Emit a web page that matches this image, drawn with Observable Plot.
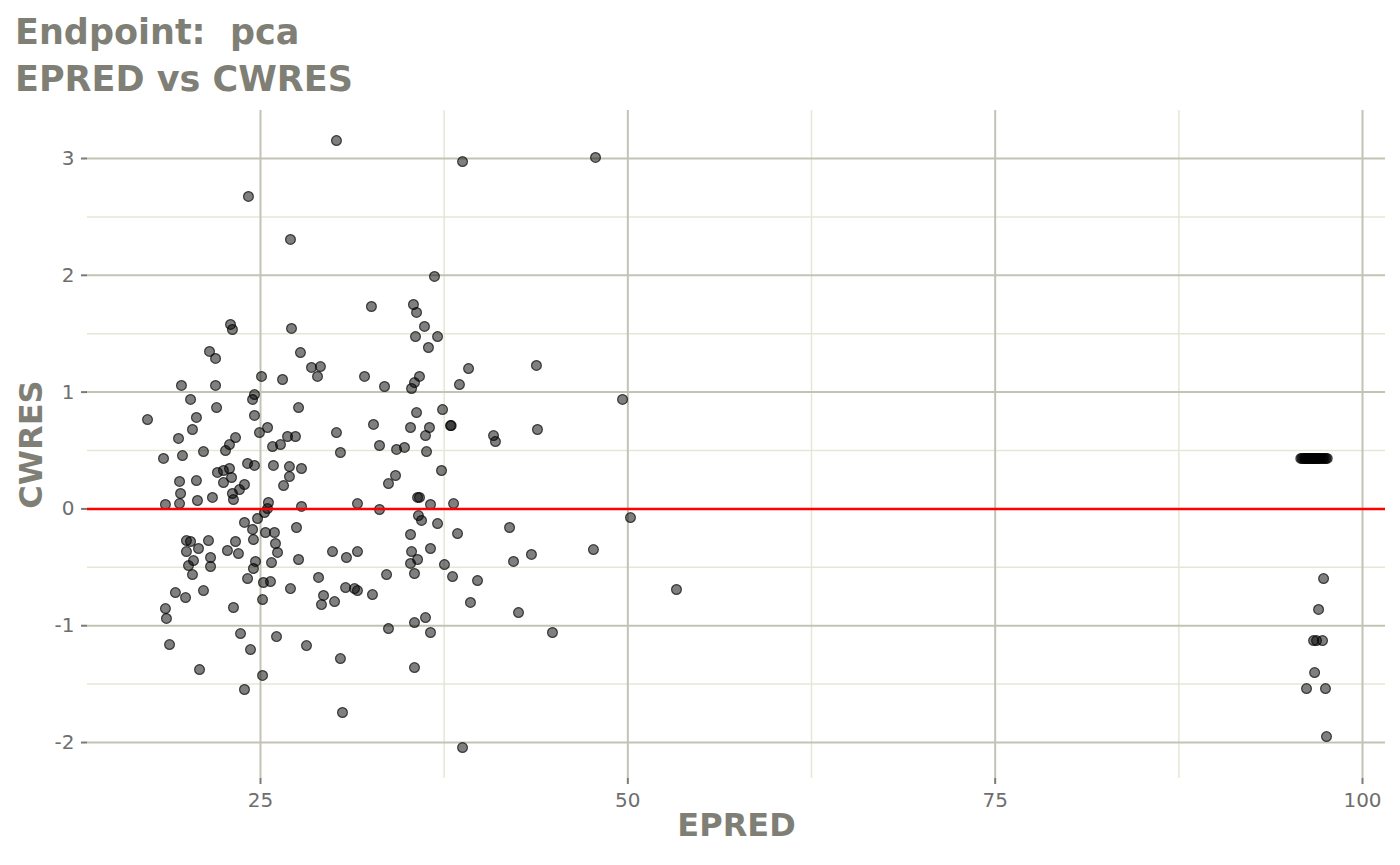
<!DOCTYPE html>
<html>
<head>
<meta charset="utf-8">
<script src="https://cdn.jsdelivr.net/npm/d3@7"></script>
<script src="https://cdn.jsdelivr.net/npm/@observablehq/plot@0.6"></script>
<style>
  body { margin: 0; background: white; font-family: "DejaVu Sans", sans-serif; }
  #title {
    height: 91px; padding: 9px 0 0 15px;
    font-size: 35px; font-weight: bold; line-height: 47px;
    color: #7f7f76; white-space: pre;
  }
</style>
</head>
<body>
<div id="title">Endpoint:  pca
EPRED vs CWRES</div>
<div id="chart"></div>
<script>
// observations with EPRED below ~55
const epred = [
  22.96, 23.09, 27.11, 21.53, 21.94, 27.72, 25.07, 26.50, 19.62, 21.94,
  24.59, 24.46, 20.24, 22.01, 27.59, 17.31, 20.64, 24.59, 20.37, 25.48,
  19.42, 23.30, 22.89, 24.93, 25.82, 26.36, 26.84, 27.38, 18.40, 19.69,
  21.12, 22.62, 24.12, 24.59, 25.88, 26.97, 27.79, 22.07, 22.48, 22.89,
  23.03, 22.48, 19.49, 20.64, 26.97, 26.57, 23.91, 23.57, 19.56, 23.09,
  23.16, 21.73, 20.71, 18.53, 19.49, 25.54, 25.48, 25.27, 27.79, 23.91,
  24.46, 24.80, 25.34, 25.95, 27.45, 24.52, 26.02, 26.16, 19.96, 20.24,
  21.46, 23.30, 19.96, 20.78, 22.75, 23.50, 21.60, 21.60, 20.44, 20.10,
  20.37, 24.66, 24.52, 25.75, 27.59, 24.12, 25.20, 25.68, 27.04, 19.21,
  19.90, 21.12, 25.14, 18.53, 18.60, 23.16, 23.64, 26.09, 28.13, 18.81,
  24.32, 20.85, 25.14, 23.91, 36.84, 32.55, 35.41, 35.62, 36.16, 35.55,
  37.05, 36.43, 28.47, 29.08, 28.88, 32.08, 33.44, 35.82, 35.48, 35.28,
  38.54, 39.16, 30.17, 32.69, 35.62, 37.39, 35.21, 36.50, 36.23, 37.93,
  37.98, 33.10, 30.44, 34.26, 34.80, 36.30, 34.19, 33.71, 37.32, 31.60,
  33.10, 35.69, 35.82, 36.57, 38.14, 35.75, 35.96, 37.05, 35.21, 38.41,
  29.90, 30.85, 31.60, 35.28, 36.57, 35.21, 35.69, 37.52, 28.95, 33.58,
  35.48, 38.07, 30.79, 31.40, 31.60, 32.62, 29.29, 29.15, 30.04, 39.29,
  36.23, 35.48, 33.71, 36.57, 30.44, 35.48, 30.58, 30.17, 38.75, 24.18,
  27.04, 43.78, 43.85, 40.86, 40.99, 41.95, 42.22, 42.56, 43.44, 44.87,
  47.66, 47.80, 49.64, 50.18, 53.31, 38.75, 39.77
];
const cwres = [
  1.579, 1.536, 1.545, 1.348, 1.288, 1.339, 1.134, 1.108, 1.057, 1.057,
  0.979, 0.937, 0.937, 0.868, 0.868, 0.765, 0.783, 0.800, 0.680, 0.697,
  0.603, 0.611, 0.551, 0.654, 0.534, 0.551, 0.620, 0.620, 0.432, 0.457,
  0.491, 0.500, 0.389, 0.372, 0.372, 0.363, 0.346, 0.312, 0.329, 0.346,
  0.269, 0.226, 0.235, 0.243, 0.277, 0.200, 0.209, 0.166, 0.132, 0.132,
  0.080, 0.098, 0.072, 0.038, 0.046, 0.055, 0.003, -0.031, 0.021, -0.116,
  -0.176, -0.082, -0.202, -0.202, -0.159, -0.262, -0.296, -0.373, -0.271, -0.279,
  -0.271, -0.279, -0.365, -0.339, -0.356, -0.382, -0.416, -0.493, -0.442, -0.485,
  -0.562, -0.450, -0.510, -0.459, -0.433, -0.596, -0.630, -0.622, -0.682, -0.716,
  -0.759, -0.699, -0.776, -0.853, -0.938, -0.844, -1.067, -1.093, -1.170, -1.161,
  -1.204, -1.375, -1.426, -1.546, 1.990, 1.733, 1.750, 1.682, 1.562, 1.476,
  1.476, 1.382, 1.211, 1.219, 1.134, 1.134, 1.048, 1.134, 1.082, 1.031,
  1.065, 1.202, 0.654, 0.723, 0.825, 0.851, 0.697, 0.697, 0.628, 0.714,
  0.714, 0.543, 0.483, 0.509, 0.526, 0.491, 0.286, 0.217, 0.329, 0.046,
  -0.005, 0.098, 0.098, 0.038, 0.046, -0.057, -0.099, -0.125, -0.219, -0.211,
  -0.365, -0.416, -0.365, -0.365, -0.339, -0.467, -0.433, -0.476, -0.587, -0.562,
  -0.553, -0.579, -0.673, -0.682, -0.699, -0.733, -0.741, -0.819, -0.793, -0.801,
  -0.930, -0.973, -1.024, -1.058, -1.281, -1.358, -1.743, 3.154, 2.974, 2.675,
  2.307, 1.228, 0.680, 0.628, 0.577, -0.159, -0.450, -0.887, -0.390, -1.058,
  -0.348, 3.009, 0.937, -0.074, -0.690, -2.043, -0.613
];
// observations with EPRED near 96-98
const epredHigh = [
  95.80, 95.90, 96.00, 96.10, 96.15, 96.20, 96.30, 96.35, 96.40, 96.50,
  96.55, 96.60, 96.70, 96.75, 96.80, 96.90, 96.95, 97.00, 97.10, 97.20,
  97.30, 97.40, 97.50, 97.60,
  97.35, 97.01, 96.67, 96.87, 97.28, 96.74, 96.19, 97.48, 97.55
];
const cwresHigh = [
  0.432, 0.432, 0.432, 0.432, 0.432, 0.432, 0.432, 0.432, 0.432, 0.432,
  0.432, 0.432, 0.432, 0.432, 0.432, 0.432, 0.432, 0.432, 0.432, 0.432,
  0.432, 0.432, 0.432, 0.432,
  -0.596, -0.861, -1.127, -1.127, -1.127, -1.401, -1.538, -1.538, -1.949
];
const xMajor = [25, 50, 75, 100];
const xMinor = [37.5, 62.5, 87.5];
const yMajor = [-2, -1, 0, 1, 2, 3];
const yMinor = [-1.5, -0.5, 0.5, 1.5, 2.5];

const data = epred.map((d, i) => ({EPRED: d, CWRES: cwres[i]}))
  .concat(epredHigh.map((d, i) => ({EPRED: d, CWRES: cwresHigh[i]})));

const chart = Plot.plot({
  width: 1400,
  height: 765,
  marginTop: 10,
  marginBottom: 87,
  marginLeft: 87,
  marginRight: 15,
  style: {fontFamily: "DejaVu Sans", fontSize: "20px", background: "white"},
  x: {domain: [13.226, 101.565]},
  y: {domain: [-2.308, 3.411]},
  marks: [
    Plot.gridX(xMinor, {stroke: "#e6e6d6", strokeOpacity: 1, strokeWidth: 1.5}),
    Plot.gridY(yMinor, {stroke: "#e6e6d6", strokeOpacity: 1, strokeWidth: 1.5}),
    Plot.gridX(xMajor, {stroke: "#c3c3b5", strokeOpacity: 1, strokeWidth: 2}),
    Plot.gridY(yMajor, {stroke: "#c3c3b5", strokeOpacity: 1, strokeWidth: 2}),
    Plot.axisX(xMajor, {label: null, tickSize: 6, tickPadding: 8, stroke: "#7a7a7a",
      strokeWidth: 2, fill: "#6e6e6e", fontSize: 20, tickFormat: d => String(d)}),
    Plot.axisY(yMajor, {label: null, tickSize: 6, tickPadding: 7, stroke: "#7a7a7a",
      strokeWidth: 2, fill: "#6e6e6e", fontSize: 20, tickFormat: d => String(d)}),
    Plot.dot(data, {x: "EPRED", y: "CWRES", r: 4.9, fill: "black", fillOpacity: 0.5,
      stroke: "black", strokeOpacity: 0.7, strokeWidth: 1.2}),
    Plot.ruleY([0], {stroke: "#ff0000", strokeWidth: 2.5}),
    Plot.text(["EPRED"], {frameAnchor: "bottom", dy: 57, fontSize: 32, fontWeight: "bold",
      fill: "#7f7f76"}),
    Plot.text(["CWRES"], {frameAnchor: "left", dx: -56, rotate: -90, textAnchor: "middle",
      fontSize: 32, fontWeight: "bold", fill: "#7f7f76"})
  ]
});

document.getElementById("chart").append(chart);
</script>
</body>
</html>
